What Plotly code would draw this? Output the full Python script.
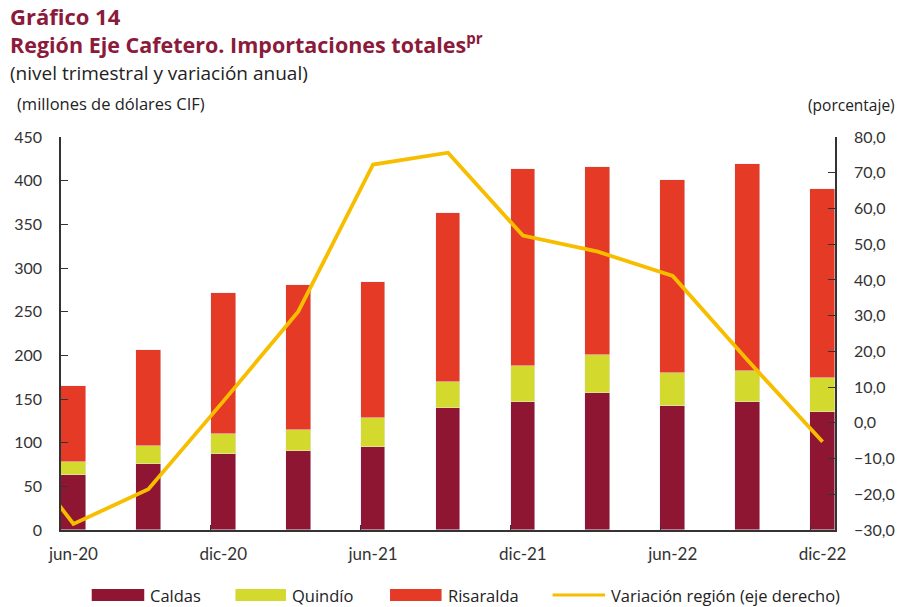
import plotly.graph_objects as go

# quarters (index 0 = jun-20); mar-20 only feeds the start of the line
quarters = ["jun-20", "sep-20", "dic-20", "mar-21", "jun-21", "sep-21",
            "dic-21", "mar-22", "jun-22", "sep-22", "dic-22"]
caldas = [63, 76, 87, 90, 95, 140, 147, 157, 142, 147, 135]
quindio = [15, 20, 23, 25, 33, 30, 41, 43, 38, 35, 39]
totales = [165, 206, 271, 281, 284, 363, 413, 416, 401, 419, 391]
risaralda = [t - c - q for t, c, q in zip(totales, caldas, quindio)]

var_quarters = ["mar-20"] + quarters
variacion = [-1.0, -28.3, -18.6, 6.0, 31.1, 72.3, 75.6, 52.4, 47.9, 41.1, 17.5, -5.3]

tick_labels = ["jun-20", "dic-20", "jun-21", "dic-21", "jun-22", "dic-22"]

FONT = "Lato"
TFONT = "Open Sans"
DARK_RED = "#8B1A3B"
COL_CALDAS = "#8E1632"
COL_QUINDIO = "#D4D92E"
COL_RISARALDA = "#E43A26"
COL_LINE = "#F7BE00"

x_idx = list(range(len(quarters)))
x_var = list(range(-1, len(quarters)))
half = 0.166

fig = go.Figure()
fig.add_trace(go.Bar(x=x_idx, y=caldas, name="Caldas", marker_color=COL_CALDAS, width=0.33))
fig.add_trace(go.Bar(x=x_idx, y=quindio, name="Quindío", marker_color=COL_QUINDIO, width=0.33))
fig.add_trace(go.Bar(x=x_idx, y=risaralda, name="Risaralda", marker_color=COL_RISARALDA, width=0.33))
fig.add_trace(go.Scatter(x=x_var, y=variacion, name="Variación región (eje derecho)", mode="lines",
                         line=dict(color=COL_LINE, width=3.8), yaxis="y2"))

axis_font = dict(family=FONT, size=16, color="#333333")

fig.update_layout(
    width=907, height=607,
    margin=dict(l=61, r=65, t=137, b=77),
    paper_bgcolor="white", plot_bgcolor="white",
    barmode="stack", bargap=0, showlegend=False,
    separators=",.",
    font=dict(family=FONT, color="#222222"),
    xaxis=dict(range=[-half, len(quarters) - 1 + half], tickmode="array",
               tickvals=[0, 2, 4, 6, 8, 10], ticktext=tick_labels, ticks="",
               showline=True, linecolor="#333333", linewidth=1.5, showgrid=False,
               zeroline=False, tickfont=dict(family=FONT, size=17, color="#333333"),
               ticklabelstandoff=8),
    xaxis2=dict(overlaying="x", matches="x", range=[-half, len(quarters) - 1 + half],
                tickmode="array", tickvals=[v - half for v in [0, 2, 4, 6, 8, 10]],
                ticks="inside", ticklen=5, tickcolor="#333333", showticklabels=False,
                showline=False, showgrid=False, zeroline=False),
    yaxis=dict(range=[0, 450], dtick=50, ticks="inside", ticklen=7, tickcolor="#333333",
               showline=True, linecolor="#333333", linewidth=1.5, showgrid=False,
               zeroline=False, tickfont=axis_font, ticklabelstandoff=14),
    yaxis2=dict(range=[-30, 80], dtick=10, overlaying="y", side="right", tickformat=".1f",
                ticks="inside", ticklen=7, tickcolor="#333333",
                showline=True, linecolor="#333333", linewidth=1.5, showgrid=False,
                zeroline=False, tickfont=axis_font, ticklabelstandoff=14),
)

# invisible trace so xaxis2 (tick marks between labels) is drawn
fig.add_trace(go.Scatter(x=[0], y=[0], xaxis="x2", mode="markers", marker=dict(opacity=0),
                         hoverinfo="skip", showlegend=False))


def px_x(x):
    return (x - 61) / 781


def px_y(y):
    return (530 - y) / 393


notes = [
    ("<b>Gráfico 14</b>", 8, 16, 22, DARK_RED, "left"),
    ("<b>Región Eje Cafetero. Importaciones totales<sup style='font-size:12px'>pr</sup></b>",
     8, 44, 21.5, DARK_RED, "left"),
    ("(nivel trimestral y variación anual)", 8, 73, 19, "#222222", "left"),
    ("(millones de dólares CIF)", 15, 103, 16.5, "#222222", "left"),
    ("(porcentaje)", 905, 105, 15.5, "#222222", "right"),
]
for text, x, y, size, color, anchor in notes:
    fig.add_annotation(text=text, x=px_x(x), y=px_y(y), xref="paper", yref="paper",
                       xanchor=anchor, yanchor="middle", showarrow=False,
                       font=dict(family=TFONT, size=size, color=color))

# legend drawn by hand to match the wide swatches
legend_items = [
    ("Caldas", COL_CALDAS, 92, 145, "box"),
    ("Quindío", COL_QUINDIO, 237, 288, "box"),
    ("Risaralda", COL_RISARALDA, 393, 445, "box"),
    ("Variación región (eje derecho)", COL_LINE, 557, 610, "line"),
]
for label, color, x0, x1, kind in legend_items:
    if kind == "box":
        fig.add_shape(type="rect", xref="paper", yref="paper", x0=px_x(x0), x1=px_x(x1),
                      y0=px_y(589), y1=px_y(601), fillcolor=color, line=dict(width=0))
    else:
        fig.add_shape(type="line", xref="paper", yref="paper", x0=px_x(x0), x1=px_x(x1),
                      y0=px_y(595), y1=px_y(595), line=dict(color=color, width=3))
    fig.add_annotation(text=label, x=px_x(x1 + 4), y=px_y(595), xref="paper", yref="paper",
                       xanchor="left", yanchor="middle", showarrow=False,
                       font=dict(family=TFONT, size=16.5, color="#222222"))

fig.write_html("out.html", config={"displayModeBar": False},
               post_script="document.body.style.margin='0';")
